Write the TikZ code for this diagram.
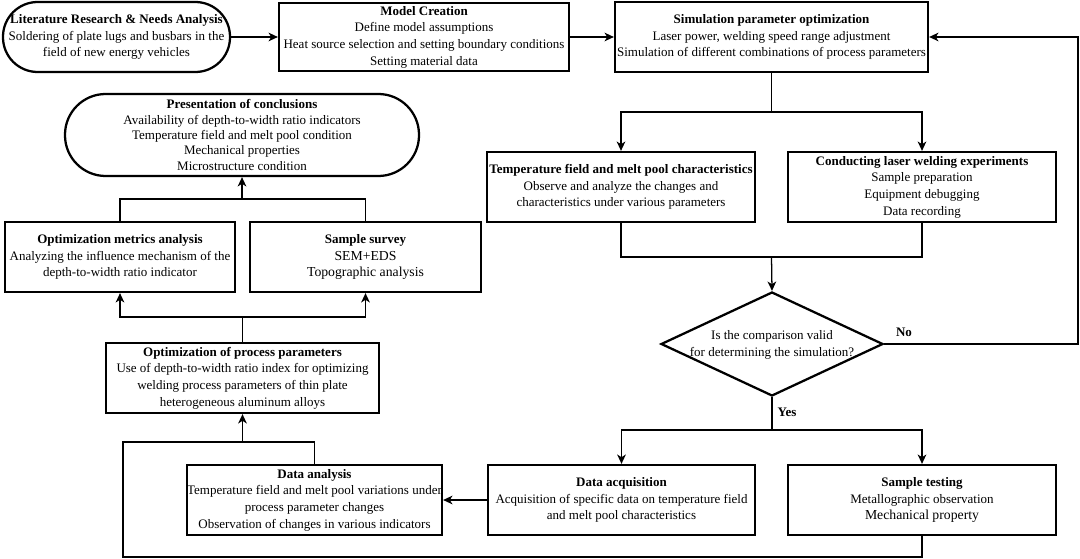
\documentclass[tikz,border=0pt]{standalone}
\usepackage{fontspec}
\setmainfont{Liberation Serif}
\usetikzlibrary{arrows.meta,shapes.geometric}
\newcommand\myfs{\fontsize{9.75pt}{12.45pt}\selectfont}
\newcommand\mybig{\fontsize{10.3pt}{12.45pt}\selectfont}
\begin{document}
\begin{tikzpicture}[x=0.75pt,y=-0.75pt,
  box/.style 2 args={draw, line width=1.7pt, minimum width=#1*0.75pt, minimum height=#2*0.75pt, inner sep=0pt, align=center, font=\myfs},
  conn/.style={line width=0.95pt},
  arr/.style={conn, -{Stealth[length=7pt,width=6.5pt,inset=2pt]}},
  lbl/.style={font=\myfs\bfseries, inner sep=0pt}]
\useasboundingbox (0,0) rectangle (1080,559);

% nodes
\node[box={227}{70}, rounded corners=26pt] (lit) at (116.5,37) {\textbf{Literature Research \& Needs Analysis}\\Soldering of plate lugs and busbars in the\\field of new energy vehicles};
\node[box={290}{68}] (model) at (424,37) {\textbf{Model Creation}\\Define model assumptions\\Heat source selection and setting boundary conditions\\Setting material data};
\node[box={313}{70}] (sim) at (771.5,37) {\textbf{Simulation parameter optimization}\\Laser power, welding speed range adjustment\\Simulation of different combinations of process parameters};
\node[box={268}{70}] (temp) at (621,187) {\textbf{Temperature field and melt pool characteristics}\\Observe and analyze the changes and\\characteristics under various parameters};
\node[box={268}{70}] (cond) at (922,187) {\textbf{Conducting laser welding experiments}\\Sample preparation\\Equipment debugging\\Data recording};
\node[draw, diamond, line width=1.7pt, minimum width=222*0.75pt, minimum height=104*0.75pt, inner sep=0pt] (dec) at (772,344) {};
\node[font=\myfs, align=center, inner sep=0pt] (dectext) at (772,345) {Is the comparison valid\\for determining the simulation?};
\node[box={267}{70}] (acq) at (621.5,500) {\textbf{Data acquisition}\\Acquisition of specific data on temperature field\\and melt pool characteristics};
\node[box={268}{70}] (test) at (922,500) {\textbf{Sample testing}\\Metallographic observation\\{\mybig Mechanical property}};
\node[box={255}{70}] (ana) at (314.5,500) {\textbf{Data analysis}\\Temperature field and melt pool variations under\\process parameter changes\\Observation of changes in various indicators};
\node[box={273}{70}] (opt) at (242.5,378) {\textbf{Optimization of process parameters}\\Use of depth-to-width ratio index for optimizing\\welding process parameters of thin plate\\heterogeneous aluminum alloys};
\node[box={230}{70}] (met) at (120,257) {\textbf{Optimization metrics analysis}\\Analyzing the influence mechanism of the\\depth-to-width ratio indicator};
\node[box={231}{70}] (surv) at (365.5,257) {\textbf{Sample survey}\\{\mybig SEM+EDS}\\{\mybig Topographic analysis}};
\node[box={354}{82}, rounded corners=30.5pt, font=\fontsize{9.75pt}{11.5pt}\selectfont] (pres) at (242,135) {\textbf{Presentation of conclusions}\\Availability of depth-to-width ratio indicators\\Temperature field and melt pool condition\\Mechanical properties\\Microstructure condition};

\node[lbl] (no) at (904,332) {No};
\node[lbl] (yes) at (787,412) {Yes};

% junction coordinates
\coordinate (s1) at (771.5,112);
\coordinate (j1) at (771.5,257);
\coordinate (s2) at (772,430);
\coordinate (fb) at (1078,344);
\coordinate (cb1) at (123,557);
\coordinate (cb2) at (123,442);
\coordinate (j3) at (242.5,442);
\coordinate (j4) at (242.5,317);
\coordinate (j5) at (242,199);

% connectors
\draw[arr] (lit.east) -- (model.west);
\draw[arr] (model.east) -- (sim.west);
\draw[conn] (sim.south) -- (s1);
\draw[arr] (s1) -| (temp.north);
\draw[arr] (s1) -| (cond.north);
\draw[conn] (temp.south) |- (j1) -| (cond.south);
\draw[arr] (j1) -- (dec.north);
\draw[arr] (dec.east) -- (fb) |- (sim.east);
\draw[conn] (dec.south) -- (s2);
\draw[arr] (s2) -| (acq.north);
\draw[arr] (s2) -| (test.north);
\draw[arr] (acq.west) -- (ana.east);
\draw[conn] (test.south) |- (cb1) -- (cb2) -| (ana.north);
\draw[arr] (j3) -- (opt.south);
\draw[conn] (opt.north) -- (j4);
\draw[arr] (j4) -| (met.south);
\draw[arr] (j4) -| (surv.south);
\draw[conn] (met.north) |- (j5) -| (surv.north);
\draw[arr] (j5) -- (pres.south);
\end{tikzpicture}
\end{document}
